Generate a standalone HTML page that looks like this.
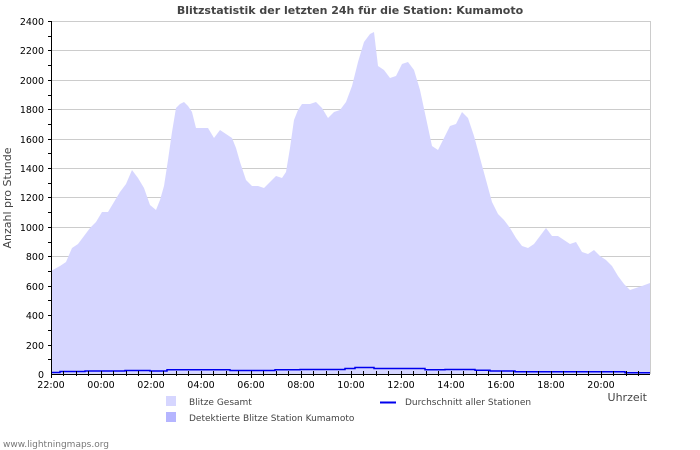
<!DOCTYPE html>
<html><head><meta charset="utf-8"><style>
html,body{margin:0;padding:0;background:#fff;}
svg{display:block;font-family:"DejaVu Sans","Liberation Sans",sans-serif;}
</style></head><body>
<svg width="700" height="450" viewBox="0 0 700 450">
<text x="350" y="14" text-anchor="middle" font-size="11" font-weight="bold" fill="#444">Blitzstatistik der letzten 24h für die Station: Kumamoto</text>
<g stroke="#ccc" stroke-width="1">
<line x1="51" y1="21.5" x2="650" y2="21.5"/><line x1="51" y1="50.5" x2="650" y2="50.5"/><line x1="51" y1="80.5" x2="650" y2="80.5"/><line x1="51" y1="109.5" x2="650" y2="109.5"/><line x1="51" y1="139.5" x2="650" y2="139.5"/><line x1="51" y1="168.5" x2="650" y2="168.5"/><line x1="51" y1="197.5" x2="650" y2="197.5"/><line x1="51" y1="227.5" x2="650" y2="227.5"/><line x1="51" y1="256.5" x2="650" y2="256.5"/><line x1="51" y1="286.5" x2="650" y2="286.5"/><line x1="51" y1="315.5" x2="650" y2="315.5"/><line x1="51" y1="345.5" x2="650" y2="345.5"/>
<line x1="650.5" y1="21" x2="650.5" y2="374"/>
</g>
<path fill="#d6d6ff" d="M51,374 L51,271 L60,266 L66,262 L72,248 L78,244 L84,236 L90,228 L96,222 L102,212 L108,212 L114,202 L120,192 L126,184 L132,170 L138,178 L144,188 L150,205 L156,210 L160,200 L164,186 L168,160 L172,132 L176,108 L180,104 L184,102 L188,106 L192,112 L196,128 L202,128 L208,128 L214,138 L220,130 L226,134 L232,138 L236,148 L240,162 L246,180 L252,186 L258,186 L264,188 L270,182 L276,176 L282,178 L286,172 L290,148 L294,120 L298,110 L302,104 L310,104 L316,102 L322,108 L328,118 L334,112 L340,110 L346,102 L352,86 L358,62 L364,42 L370,34 L374,32 L378,66 L384,70 L390,78 L396,76 L402,64 L408,62 L414,70 L420,90 L426,118 L432,146 L438,150 L444,138 L450,126 L456,124 L462,112 L468,118 L474,136 L480,158 L486,180 L492,202 L498,214 L504,220 L510,228 L516,238 L522,246 L528,248 L534,244 L540,236 L546,228 L552,236 L558,236 L564,240 L570,244 L576,242 L582,252 L588,254 L594,250 L600,256 L606,260 L612,266 L618,276 L624,284 L630,290 L636,288 L642,286 L650,283 L650,374 Z"/>
<path fill="none" stroke="#0000ee" stroke-width="1.5" d="M51,372.5 L60,372.5 L60,371.5 L85,371.5 L85,371 L125,371 L125,370.5 L150,370.5 L150,371 L167,371 L167,369.8 L230,369.8 L230,370.5 L275,370.5 L275,369.8 L300,369.8 L300,369.5 L345,369.5 L345,368.5 L355,368.5 L355,367.5 L374,367.5 L374,368.5 L425,368.5 L425,369.8 L445,369.8 L445,369.5 L475,369.5 L475,370.3 L490,370.3 L490,371 L515,371 L515,371.8 L625,371.8 L625,372.8 L650,372.8"/>
<g stroke="#000" stroke-width="1">
<line x1="51.5" y1="21" x2="51.5" y2="374"/>
<line x1="51" y1="374.5" x2="650" y2="374.5"/>
</g>
<g stroke="#000" stroke-width="1">
<line x1="48" y1="21.5" x2="51" y2="21.5"/><line x1="48" y1="36.5" x2="51" y2="36.5"/><line x1="48" y1="50.5" x2="51" y2="50.5"/><line x1="48" y1="65.5" x2="51" y2="65.5"/><line x1="48" y1="80.5" x2="51" y2="80.5"/><line x1="48" y1="95.5" x2="51" y2="95.5"/><line x1="48" y1="109.5" x2="51" y2="109.5"/><line x1="48" y1="124.5" x2="51" y2="124.5"/><line x1="48" y1="139.5" x2="51" y2="139.5"/><line x1="48" y1="153.5" x2="51" y2="153.5"/><line x1="48" y1="168.5" x2="51" y2="168.5"/><line x1="48" y1="183.5" x2="51" y2="183.5"/><line x1="48" y1="197.5" x2="51" y2="197.5"/><line x1="48" y1="212.5" x2="51" y2="212.5"/><line x1="48" y1="227.5" x2="51" y2="227.5"/><line x1="48" y1="242.5" x2="51" y2="242.5"/><line x1="48" y1="256.5" x2="51" y2="256.5"/><line x1="48" y1="271.5" x2="51" y2="271.5"/><line x1="48" y1="286.5" x2="51" y2="286.5"/><line x1="48" y1="300.5" x2="51" y2="300.5"/><line x1="48" y1="315.5" x2="51" y2="315.5"/><line x1="48" y1="330.5" x2="51" y2="330.5"/><line x1="48" y1="345.5" x2="51" y2="345.5"/><line x1="48" y1="359.5" x2="51" y2="359.5"/>
</g>
<g stroke="#000" stroke-width="1">
<line x1="51.5" y1="371" x2="51.5" y2="378"/><line x1="63.5" y1="371" x2="63.5" y2="376"/><line x1="76.5" y1="371" x2="76.5" y2="376"/><line x1="88.5" y1="371" x2="88.5" y2="376"/><line x1="101.5" y1="371" x2="101.5" y2="378"/><line x1="113.5" y1="371" x2="113.5" y2="376"/><line x1="126.5" y1="371" x2="126.5" y2="376"/><line x1="138.5" y1="371" x2="138.5" y2="376"/><line x1="151.5" y1="371" x2="151.5" y2="378"/><line x1="163.5" y1="371" x2="163.5" y2="376"/><line x1="176.5" y1="371" x2="176.5" y2="376"/><line x1="188.5" y1="371" x2="188.5" y2="376"/><line x1="201.5" y1="371" x2="201.5" y2="378"/><line x1="213.5" y1="371" x2="213.5" y2="376"/><line x1="226.5" y1="371" x2="226.5" y2="376"/><line x1="238.5" y1="371" x2="238.5" y2="376"/><line x1="251.5" y1="371" x2="251.5" y2="378"/><line x1="263.5" y1="371" x2="263.5" y2="376"/><line x1="276.5" y1="371" x2="276.5" y2="376"/><line x1="288.5" y1="371" x2="288.5" y2="376"/><line x1="301.5" y1="371" x2="301.5" y2="378"/><line x1="313.5" y1="371" x2="313.5" y2="376"/><line x1="326.5" y1="371" x2="326.5" y2="376"/><line x1="338.5" y1="371" x2="338.5" y2="376"/><line x1="351.5" y1="371" x2="351.5" y2="378"/><line x1="363.5" y1="371" x2="363.5" y2="376"/><line x1="376.5" y1="371" x2="376.5" y2="376"/><line x1="388.5" y1="371" x2="388.5" y2="376"/><line x1="401.5" y1="371" x2="401.5" y2="378"/><line x1="413.5" y1="371" x2="413.5" y2="376"/><line x1="426.5" y1="371" x2="426.5" y2="376"/><line x1="438.5" y1="371" x2="438.5" y2="376"/><line x1="451.5" y1="371" x2="451.5" y2="378"/><line x1="463.5" y1="371" x2="463.5" y2="376"/><line x1="476.5" y1="371" x2="476.5" y2="376"/><line x1="488.5" y1="371" x2="488.5" y2="376"/><line x1="501.5" y1="371" x2="501.5" y2="378"/><line x1="513.5" y1="371" x2="513.5" y2="376"/><line x1="526.5" y1="371" x2="526.5" y2="376"/><line x1="538.5" y1="371" x2="538.5" y2="376"/><line x1="551.5" y1="371" x2="551.5" y2="378"/><line x1="563.5" y1="371" x2="563.5" y2="376"/><line x1="576.5" y1="371" x2="576.5" y2="376"/><line x1="588.5" y1="371" x2="588.5" y2="376"/><line x1="601.5" y1="371" x2="601.5" y2="378"/><line x1="613.5" y1="371" x2="613.5" y2="376"/><line x1="626.5" y1="371" x2="626.5" y2="376"/><line x1="638.5" y1="371" x2="638.5" y2="376"/>
</g>
<g font-size="9.5" fill="#000" text-anchor="end">
<text x="44" y="25">2400</text><text x="44" y="54">2200</text><text x="44" y="84">2000</text><text x="44" y="113">1800</text><text x="44" y="143">1600</text><text x="44" y="172">1400</text><text x="44" y="201">1200</text><text x="44" y="231">1000</text><text x="44" y="260">800</text><text x="44" y="290">600</text><text x="44" y="319">400</text><text x="44" y="349">200</text><text x="44" y="378">0</text>
</g>
<g font-size="9.5" fill="#000" text-anchor="middle">
<text x="51" y="388">22:00</text><text x="101" y="388">00:00</text><text x="151" y="388">02:00</text><text x="201" y="388">04:00</text><text x="251" y="388">06:00</text><text x="301" y="388">08:00</text><text x="351" y="388">10:00</text><text x="401" y="388">12:00</text><text x="451" y="388">14:00</text><text x="501" y="388">16:00</text><text x="551" y="388">18:00</text><text x="601" y="388">20:00</text>
</g>
<text x="647" y="401" font-size="11" fill="#444" text-anchor="end">Uhrzeit</text>
<text transform="translate(11,198) rotate(-90)" font-size="11" fill="#444" text-anchor="middle">Anzahl pro Stunde</text>
<rect x="166" y="396" width="10" height="10" fill="#d6d6ff"/>
<text x="189" y="405" font-size="9" fill="#444">Blitze Gesamt</text>
<rect x="166" y="412" width="10" height="10" fill="#b5b5ff"/>
<text x="189" y="421" font-size="9" fill="#444">Detektierte Blitze Station Kumamoto</text>
<line x1="380" y1="402.5" x2="396" y2="402.5" stroke="#0000ee" stroke-width="2"/>
<text x="405" y="405" font-size="9" fill="#444">Durchschnitt aller Stationen</text>
<text x="3" y="447" font-size="9" fill="#777">www.lightningmaps.org</text>
</svg>
</body></html>
